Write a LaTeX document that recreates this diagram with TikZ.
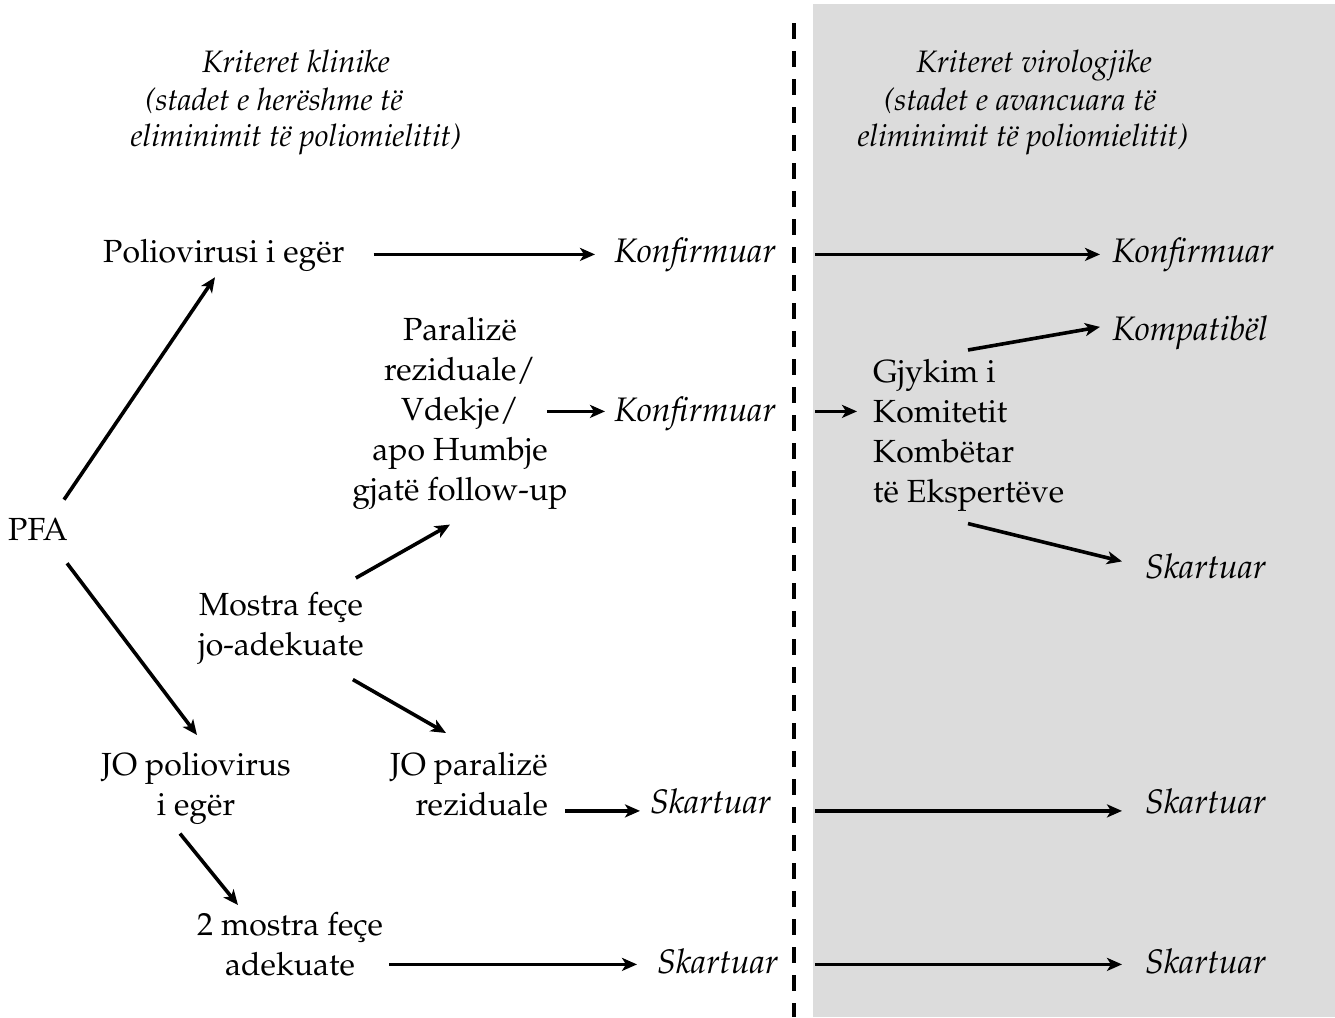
\documentclass[tikz,border=0pt]{standalone}
\usepackage[T1]{fontenc}
\renewcommand{\rmdefault}{ppl}
\usetikzlibrary{arrows.meta}
\definecolor{panelgray}{HTML}{DCDCDC}
\begin{document}
\begin{tikzpicture}[x=1pt,y=-1pt,
  txt/.style={inner sep=0pt,font=\fontsize{32}{40}\selectfont},
  itx/.style={txt,font=\fontsize{34}{40}\selectfont\itshape},
  hdr/.style={txt,font=\fontsize{31}{38}\selectfont\itshape},
  arr/.style={line width=3.6pt,-{Stealth[length=15pt,width=13pt,inset=4pt]}}]
\useasboundingbox (0,0) rectangle (1335,1017);
% shaded panel and divider
\fill[panelgray] (813,4) rectangle (1335,1017);
\coordinate (divtop) at (794,23);
\coordinate (divbot) at (794,1017);
\draw[line width=4pt,dash pattern=on 16pt off 12pt] (divtop) -- (divbot);

% column headings
\node[hdr,anchor=base] (hl1) at (296,72) {Kriteret klinike};
\node[hdr,anchor=base] (hl2) at (274,110) {(stadet e herëshme të};
\node[hdr,anchor=base] (hl3) at (296,146) {eliminimit të poliomielitit)};
\node[hdr,anchor=base] (hr1) at (1034,72) {Kriteret virologjike};
\node[hdr,anchor=base] (hr2) at (1020,110) {(stadet e avancuara të};
\node[hdr,anchor=base] (hr3) at (1023,146) {eliminimit të poliomielitit)};

% clinical column
\node[txt,anchor=base west] (pfa) at (8,540) {PFA};
\node[txt,anchor=base west] (polio) at (103,262) {Poliovirusi i egër};
\node[txt,align=center,anchor=north] (paral) at (460,317)
  {Paralizë\\reziduale/\\Vdekje/\\apo Humbje\\gjatë follow-up};
\node[txt,align=center,anchor=north] (mostra) at (281,592) {Mostra feçe\\jo-adekuate};
\node[txt,align=center,anchor=north] (jopolio) at (196,752) {JO poliovirus\\i egër};
\node[txt,align=right,anchor=north east] (joparal) at (548,752) {JO paralizë\\reziduale};
\node[txt,align=center,anchor=north] (dwa) at (290,912) {2 mostra feçe\\adekuate};

\node[itx,anchor=base west] (konfA) at (614,262) {Konfirmuar};
\node[itx,anchor=base west] (konfB) at (614,421) {Konfirmuar};
\node[itx,anchor=base west] (skartL1) at (650,813) {Skartuar};
\node[itx,anchor=base west] (skartL2) at (657,973) {Skartuar};

% virological column
\node[txt,align=left,anchor=north west] (gjykim) at (873,359)
  {Gjykim i\\Komitetit\\Kombëtar\\të Ekspertëve};
\node[itx,anchor=base west] (konfA2) at (1112,262) {Konfirmuar};
\node[itx,anchor=base west] (kompat) at (1112,340) {Kompatibël};
\node[itx,anchor=base west] (skartR1) at (1145,578) {Skartuar};
\node[itx,anchor=base west] (skartR2) at (1145,813) {Skartuar};
\node[itx,anchor=base west] (skartR3) at (1145,973) {Skartuar};

% branches from PFA
\draw[arr] ([xshift=-4pt,yshift=18pt]pfa.north east) -- ([xshift=112pt,yshift=-6pt]polio.south west);
\draw[arr] ([xshift=-1pt,yshift=-23pt]pfa.south east) -- ([xshift=1pt,yshift=17pt]jopolio.north);
\draw[arr] ([xshift=-8pt,yshift=14pt]mostra.north east) -- ([xshift=-10pt,yshift=-15pt]paral.south);
\draw[arr] ([xshift=-11pt,yshift=-15pt]mostra.south east) -- ([xshift=56pt,yshift=19pt]joparal.north west);
\draw[arr] ([xshift=-16pt,yshift=-9pt]jopolio.south) -- ([xshift=-52pt,yshift=7pt]dwa.north);

% horizontal outcomes, clinical side
\draw[arr] ([xshift=29pt]polio.east |- konfA.west) -- ([xshift=-19pt]konfA.west);
\draw[arr] ([xshift=-21pt,yshift=2pt]paral.east |- konfB.west) -- ([xshift=-9pt,yshift=2pt]konfB.west);
\draw[arr] ([xshift=17pt,yshift=-10pt]joparal.east |- skartL1.west) -- ([xshift=-10pt,yshift=-10pt]skartL1.west);
\draw[arr] ([xshift=6pt,yshift=-3.5pt]dwa.east |- skartL2.west) -- ([xshift=-20pt,yshift=-3.5pt]skartL2.west);

% horizontal outcomes, virological side
\draw[arr] ([xshift=21pt]konfA.east -| divtop) -- ([xshift=-12pt]konfA.east -| konfA2.west);
\draw[arr] ([xshift=21pt,yshift=2pt]konfB.east -| divtop) -- ([xshift=-16pt,yshift=2pt]konfB.east -| gjykim.west);
\draw[arr] ([xshift=21pt,yshift=-10pt]skartL1.east -| divtop) -- ([xshift=-23pt,yshift=-10pt]skartL1.east -| skartR2.west);
\draw[arr] ([xshift=21pt,yshift=-3.5pt]skartL2.east -| divtop) -- ([xshift=-23pt,yshift=-3.5pt]skartL2.east -| skartR3.west);

% committee decisions
\draw[arr] ([xshift=95pt,yshift=9pt]gjykim.north west) -- ([xshift=-12pt,yshift=5.5pt]kompat.west);
\draw[arr] ([xshift=95pt,yshift=-12pt]gjykim.south west) -- ([xshift=-23pt,yshift=4.5pt]skartR1.west);
\end{tikzpicture}
\end{document}
